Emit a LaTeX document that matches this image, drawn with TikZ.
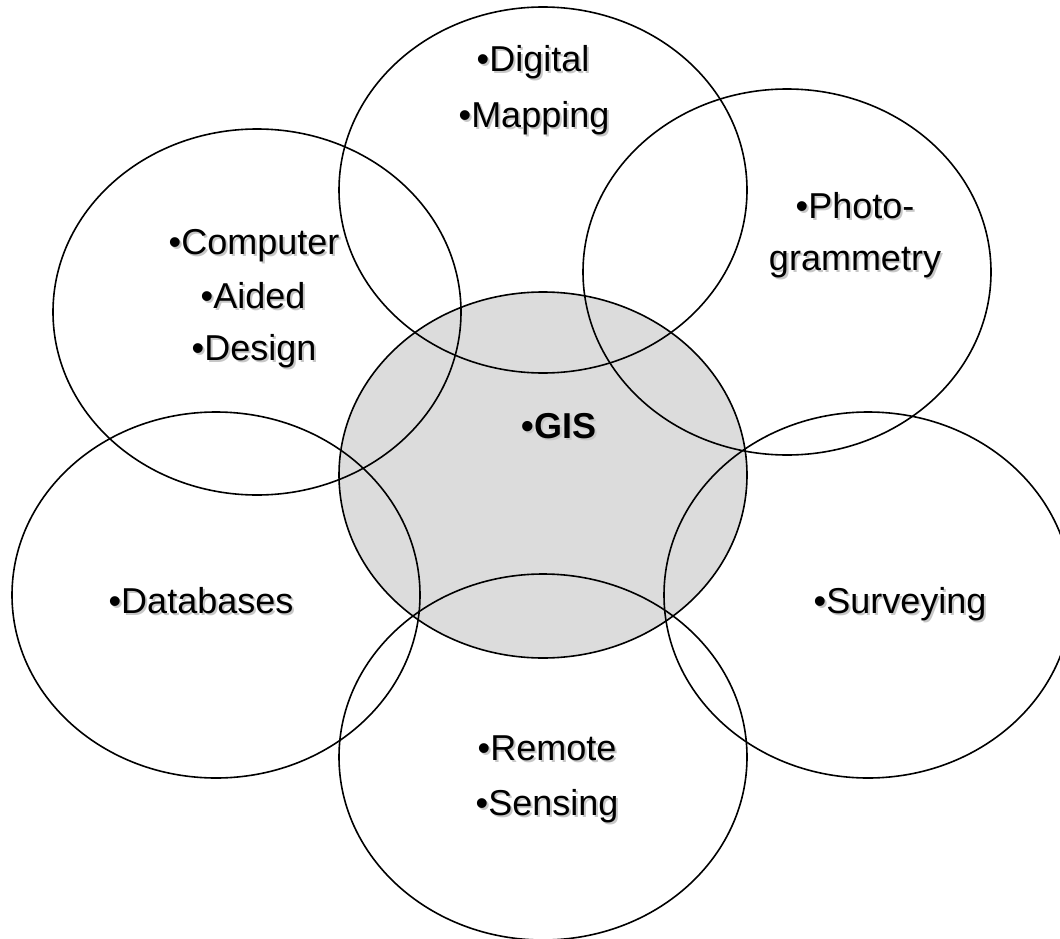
\documentclass[tikz,border=0pt]{standalone}
\usepackage{fontspec}
\setmainfont{Liberation Sans}
\usetikzlibrary{shapes.geometric}
\newcommand{\shtext}[1]{\rlap{\kern2pt\raisebox{-2pt}{\color{black!22}#1}}#1}
\tikzset{
  ring/.style={ellipse, draw=black, line width=1.6pt, inner sep=0pt,
    minimum width=408pt, minimum height=366pt},
  lbl/.style={anchor=base, inner sep=0pt, font=\fontsize{36}{40}\selectfont}
}
\begin{document}
\begin{tikzpicture}[x=1pt,y=-1pt]
\useasboundingbox (0,0) rectangle (1060,939);
% central filled ellipse
\node[ring, fill={rgb,255:red,220;green,220;blue,220}] (gis) at (543,475) {};
% surrounding ellipses
\node[ring] (dm) at (543,190) {};
\node[ring] (cad) at (257,312) {};
\node[ring] (ph) at (787,272) {};
\node[ring] (db) at (216,595) {};
\node[ring] (sv) at (868,595) {};
\node[ring] (rs) at (543,757) {};
% labels
\node[lbl] (t1) at (533,72) {\shtext{•Digital}};
\node[lbl] (t2) at (534,128) {\shtext{•Mapping}};
\node[lbl] (t3) at (254,254) {\shtext{•Computer}};
\node[lbl] (t4) at (253,308) {\shtext{•Aided}};
\node[lbl] (t5) at (254,360) {\shtext{•Design}};
\node[lbl] (t6) at (855,218) {\shtext{•Photo-}};
\node[lbl] (t7) at (855,270) {\shtext{grammetry}};
\node[lbl, font=\fontsize{36}{40}\selectfont\bfseries] (t8) at (559,438) {\shtext{•GIS}};
\node[lbl] (t9) at (201,613) {\shtext{•Databases}};
\node[lbl] (t10) at (900,613) {\shtext{•Surveying}};
\node[lbl] (t11) at (547,760) {\shtext{•Remote}};
\node[lbl] (t12) at (547,815) {\shtext{•Sensing}};
\end{tikzpicture}
\end{document}
